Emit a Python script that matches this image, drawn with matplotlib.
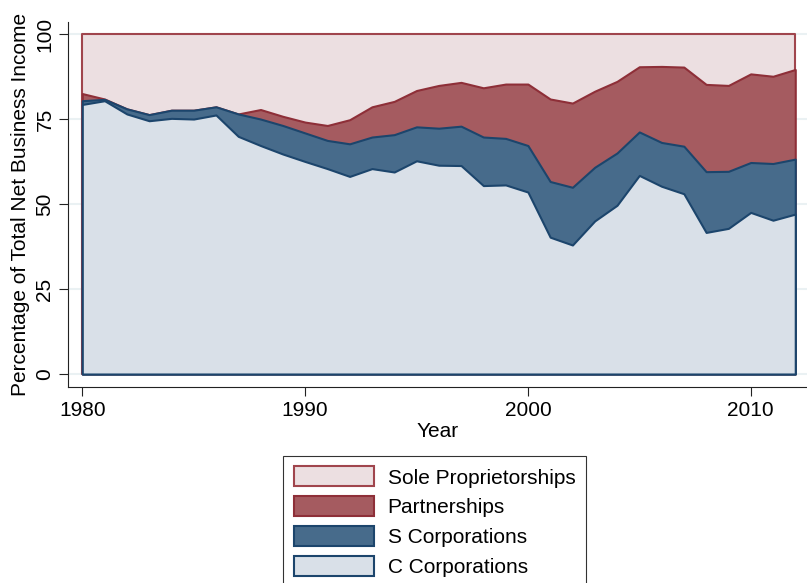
import numpy as np
import matplotlib
matplotlib.use("Agg")
import matplotlib.pyplot as plt
from matplotlib.patches import Patch

plt.rcParams["font.family"] = ["Liberation Sans", "DejaVu Sans"]

years = list(range(1980, 2013))

# shares of total net business income (%)
c_corp = [79.4, 80.5, 76.6, 74.6, 75.3, 75.1, 76.3, 70.0, 67.3, 64.8,
          62.6, 60.5, 58.2, 60.5, 59.5, 62.8, 61.5, 61.4, 55.5, 55.7,
          53.6, 40.3, 38.0, 45.1, 49.7, 58.5, 55.3, 53.1, 41.7, 42.9,
          47.6, 45.3, 47.1]
s_corp = [1.1, 0.4, 1.5, 1.8, 2.4, 2.6, 2.4, 6.6, 7.8, 8.4,
          8.4, 8.3, 9.6, 9.3, 11.0, 10.0, 10.9, 11.6, 14.3, 13.7,
          13.7, 16.4, 17.0, 15.8, 15.4, 12.8, 12.9, 14.0, 17.9, 16.8,
          14.7, 16.7, 16.2]
partnerships = [2.1, 0.1, 0.0, 0.0, 0.0, 0.0, 0.0, 0.0, 2.8, 2.7,
                3.2, 4.4, 7.1, 8.9, 9.8, 10.7, 12.6, 12.9, 14.5, 16.0,
                18.1, 24.3, 24.8, 22.4, 21.1, 19.2, 22.4, 23.3, 25.7, 25.3,
                26.1, 25.7, 26.4]

c_top = np.array(c_corp)
s_top = c_top + np.array(s_corp)
p_top = s_top + np.array(partnerships)
sole_top = np.full(len(years), 100.0)

fig = plt.figure(figsize=(8.07, 5.83), dpi=100)
ax = fig.add_axes([68.3 / 807, 1 - 386.7 / 583, 1 - 68.3 / 807, (386.7 - 21.7) / 583])

ax.set_yticks([0, 25, 50, 75, 100])
ax.yaxis.grid(True, color="#eaf1f3", linewidth=1.5)
ax.set_axisbelow(True)

layers = [
    ("Sole Proprietorships", sole_top, "#ecdfe1", "#a0454d"),
    ("Partnerships", p_top, "#a55b60", "#8e2f38"),
    ("S Corporations", s_top, "#476b8b", "#1c456c"),
    ("C Corporations", c_top, "#d9e0e8", "#1c456c"),
]
handles = []
for name, top, fc, ec in layers:
    ax.fill_between(years, 0, top, facecolor=fc, edgecolor=ec, linewidth=1.5, zorder=2)
    handles.append(Patch(facecolor=fc, edgecolor=ec, linewidth=1.5, label=name))

ax.set_xlim(1979.372, 2012.527)
ax.set_ylim(-3.74, 103.77)
ax.set_xticks([1980, 1990, 2000, 2010])

for side in ["top", "right"]:
    ax.spines[side].set_visible(False)
for side in ["left", "bottom"]:
    ax.spines[side].set_color("#222222")
    ax.spines[side].set_linewidth(0.8)

ax.tick_params(axis="both", direction="out", length=6.5, width=0.8,
               colors="#222222", labelsize=15, labelcolor="black")
for lab in ax.get_yticklabels():
    lab.set_rotation(90)
    lab.set_va("center")

ax.set_xlabel("Year", fontsize=15, labelpad=2)
ax.set_ylabel("Percentage of Total Net Business Income", fontsize=15, labelpad=4)

# legend box runs off the bottom of the figure, like the original
leg = fig.legend(handles=handles, loc="upper left",
                 bbox_to_anchor=(283.3 / 807, 1 - 456 / 583),
                 fontsize=15, handlelength=3.84, handleheight=1.1,
                 handletextpad=0.67, labelspacing=0.42, borderpad=0.5,
                 borderaxespad=0, frameon=True, fancybox=False)
leg.get_frame().set_edgecolor("black")
leg.get_frame().set_linewidth(0.8)

fig.savefig("out.png", dpi=100)
